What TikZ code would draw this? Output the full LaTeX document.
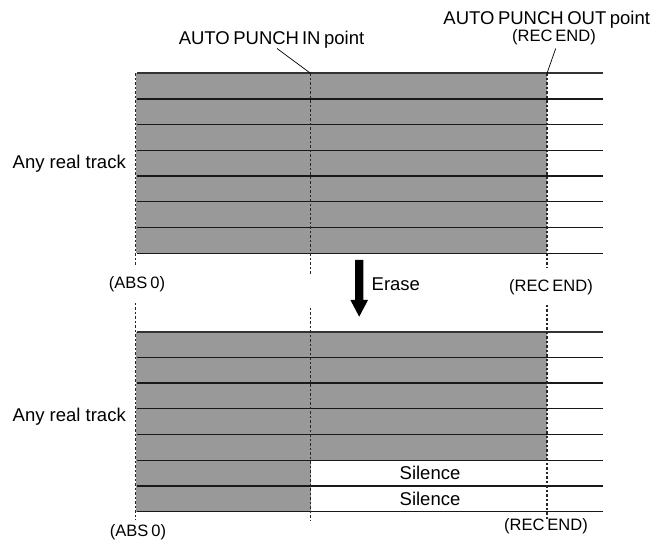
\documentclass[tikz,border=0pt]{standalone}
\usepackage{fontspec}
\setmainfont{Liberation Sans}
\begin{document}
\begin{tikzpicture}[x=1pt,y=-1pt,
  track/.style={draw=black!90,line width=1.3pt},
  edgeline/.style={draw=black!80,line width=1.8pt},
  guide/.style={draw=black!85,dash pattern=on 2.5pt off 2pt,line width=1.5pt},
  lbl/.style={font=\fontsize{18.5}{20}\selectfont,inner sep=0pt,anchor=base},
  sml/.style={font=\fontsize{16.5}{18}\selectfont,inner sep=0pt,anchor=base},
  leader/.style={draw=black,line width=0.7pt}]
\useasboundingbox (0,0) rectangle (659,545);
% gray track areas
\fill[black!40] (136,73.3) rectangle (547,253.3);
\fill[black!40] (136,331.7) rectangle (547,511.7);
\fill[white] (311,460) rectangle (547,511.7);
% track lines
\foreach \i in {1,...,7} {
  \draw[track] (137,73.3+25.71*\i) -- (603,73.3+25.71*\i);
  \draw[track] (137,331.7+25.71*\i) -- (603,331.7+25.71*\i);
}
\draw[edgeline] (137,73.3) -- (603,73.3);
\draw[edgeline] (137,331.7) -- (603,331.7);
% guide coordinates
\coordinate (absA) at (135.3,73.3);   \coordinate (absB) at (135.3,265);
\coordinate (absC) at (135.3,303);    \coordinate (absD) at (135.3,520);
\coordinate (inA) at (310.5,73.3);    \coordinate (inB) at (310.5,275);
\coordinate (inC) at (310.5,308);     \coordinate (inD) at (310.5,520);
\coordinate (outA) at (547,73.3);     \coordinate (outB) at (547,268);
\coordinate (outC) at (547,305);      \coordinate (outD) at (547,520);
\draw[guide] (absA) -- (absB);
\draw[guide] (absC) -- (absD);
\draw[guide] (inA) -- (inB);
\draw[guide] (inC) -- (inD);
\draw[guide] (outA) -- (outB);
\draw[guide] (outC) -- (outD);
% labels
\node[lbl] (inlbl) at (271.5,45) {AUTO\hspace{3.5pt}PUNCH\hspace{3pt}IN\hspace{3.5pt}point};
\node[lbl] (outlbl) at (546.7,25) {AUTO\hspace{3.5pt}PUNCH\hspace{3.5pt}OUT\hspace{3.5pt}point};
\node[sml] (recTop) at (554,42) {(REC\hspace{3pt}END)};
\coordinate (inLeadA) at (277,48.5);
\coordinate (outLeadA) at (555.7,48.5);
\draw[leader] (inLeadA) -- (inA);
\draw[leader] (outLeadA) -- (outA);
\node[lbl,anchor=base east] (trackTop) at (126,169) {Any real track};
\node[lbl,anchor=base east] (trackBot) at (126,421) {Any real track};
\node[sml] (absTop) at (137,289) {(ABS\hspace{3pt}0)};
\node[sml] (recMid) at (551,292) {(REC\hspace{3pt}END)};
\node[sml] (absBot) at (138,536) {(ABS\hspace{3pt}0)};
\node[sml] (recBot) at (546,530) {(REC\hspace{3pt}END)};
\node[lbl,anchor=base west] (erase) at (371.5,291) {Erase};
\node[lbl] (sil1) at (430,479.5) {Silence};
\node[lbl] (sil2) at (430,505.2) {Silence};
% erase arrow
\fill[black] (355,260) -- (363.3,260) -- (363.3,300) -- (368,300) -- (359.2,316.7)
  -- (350.4,300) -- (355,300) -- cycle;
\end{tikzpicture}
\end{document}
